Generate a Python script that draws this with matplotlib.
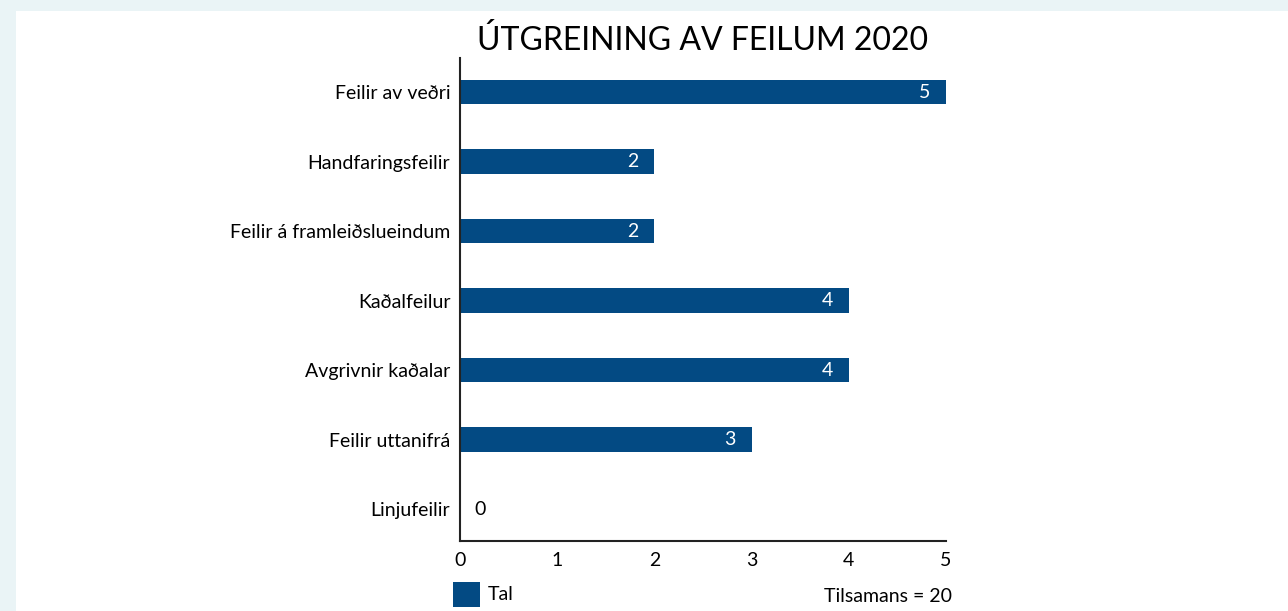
import matplotlib.pyplot as plt
from matplotlib.patches import Rectangle

# Data
kategoriir = ['Feilir av veðri', 'Handfaringsfeilir', 'Feilir á framleiðslueindum',
              'Kaðalfeilur', 'Avgrivnir kaðalar', 'Feilir uttanifrá', 'Linjufeilir']
tal = [5, 2, 2, 4, 4, 3, 0]
heiti = 'ÚTGREINING AV FEILUM 2020'
litur = '#034a83'

plt.rcParams['font.family'] = ['Lato', 'DejaVu Sans']

fig = plt.figure(figsize=(12.88, 6.11), dpi=100)
fig.patch.set_facecolor('#eaf4f6')
# white panel
fig.patches.append(Rectangle((16 / 1288, 0), 1, 1 - 11 / 611, transform=fig.transFigure,
                             facecolor='white', edgecolor='none', zorder=-10))

ax = fig.add_axes([460 / 1288, 1 - 541 / 611, 486 / 1288, 483 / 611])
ax.set_facecolor('none')

y = list(range(len(kategoriir)))
ax.barh(y, tal, height=0.35, color=litur, zorder=2)
ax.set_ylim(len(kategoriir) - 0.54, -0.49)
ax.set_xlim(0, 5)
ax.set_yticks(y)
ax.set_yticklabels(kategoriir, fontsize=14)
ax.set_xticks(range(6))
ax.tick_params(axis='x', labelsize=14, length=0, pad=8)
ax.tick_params(axis='y', length=0, pad=7)

for s in ['top', 'right']:
    ax.spines[s].set_visible(False)
for s in ['left', 'bottom']:
    ax.spines[s].set_linewidth(1.5)
    ax.spines[s].set_color('#222222')

for i, v in enumerate(tal):
    if v > 0:
        ax.text(v - 0.165, i, str(v), color='white', fontsize=14,
                ha='right', va='center', zorder=3)
    else:
        ax.text(v + 0.15, i, str(v), color='black', fontsize=14,
                ha='left', va='center', zorder=3)

fig.text(703 / 1288, 1 - 40 / 611, heiti, fontsize=23, ha='center', va='center')

# legend
fig.patches.append(Rectangle((453 / 1288, 1 - 607 / 611), 27 / 1288, 25 / 611,
                             transform=fig.transFigure, facecolor=litur,
                             edgecolor='none'))
fig.text(488 / 1288, 1 - 595 / 611, 'Tal', fontsize=14, ha='left', va='center')
fig.text(952 / 1288, 1 - 596 / 611, 'Tilsamans = 20', fontsize=14,
         ha='right', va='center')

fig.savefig('out.png', dpi=100, facecolor=fig.get_facecolor())
